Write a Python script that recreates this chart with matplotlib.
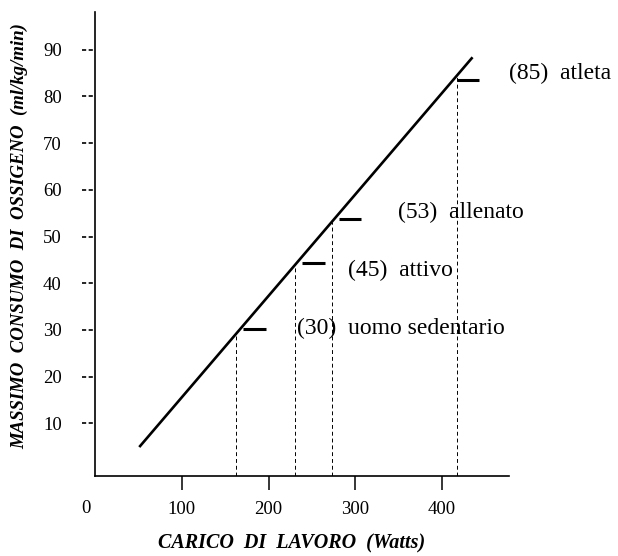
import numpy as np
import matplotlib.pyplot as plt

plt.rcParams['font.family'] = ['Liberation Serif', 'DejaVu Serif']

# data
line_w = [51, 435]          # carico (Watts) at the ends of the line
line_vo2 = [4.9, 88.4]      # VO2 max at the ends of the line
watts = [163, 231, 273, 417]
vo2 = [30, 45, 53, 85]
mark_vo2 = [30.2, 44.3, 53.7, 83.5]
labels = ['(30)  uomo sedentario', '(45)  attivo', '(53)  allenato', '(85)  atleta']
xticks = [100, 200, 300, 400]
yticks = [10, 20, 30, 40, 50, 60, 70, 80, 90]

fig = plt.figure(figsize=(6.18, 5.56), dpi=100)
ax = fig.add_axes([95/618, 80/556, 414/618, 464/556])
ax.set_xlim(0, 477)
ax.set_ylim(-1.3, 98.1)

# main line
ax.plot(line_w, line_vo2, color='black', lw=1.9, solid_capstyle='butt')

# dashed drops from the line to the x axis
tops = np.interp(watts, line_w, line_vo2)
ax.vlines(watts, -1.3, tops, colors='black', lw=0.7, linestyles=(0, (4, 3)))

# short horizontal marks + labels
label_pos = [(233, 30.4), (292, 42.8), (349, 55.2), (477, 85.0)]
mark_off = [8, 8, 8, 0]
for w, m, off, txt, (lx, ly) in zip(watts, mark_vo2, mark_off, labels, label_pos):
    ax.plot([w + off, w + off + 26], [m, m], color='black', lw=2.2, solid_capstyle='butt')
    ax.text(lx, ly, txt, fontsize=17, ha='left', va='center', clip_on=False)

# axes look
for s in ['top', 'right']:
    ax.spines[s].set_visible(False)
ax.spines['left'].set_linewidth(1.2)
ax.spines['bottom'].set_linewidth(1.2)

ax.set_xticks(xticks)
ax.set_xticklabels([str(t) for t in xticks], fontsize=13.5)
ax.tick_params(axis='x', length=10, width=1.1, pad=8, direction='out')
ax.text(-10, -0.071, '0', fontsize=13.5, ha='center', va='center',
        transform=ax.get_xaxis_transform(), clip_on=False)

ax.set_yticks(yticks)
ax.set_yticklabels([str(t) for t in yticks], fontsize=13.5)
ax.tick_params(axis='y', length=0, pad=24)
ax.hlines(yticks, -0.031, -0.003, transform=ax.get_yaxis_transform(),
          colors='black', lw=1.2, linestyles=(0, (2.5, 1.5)), clip_on=False)

fig.text(292/618, 1 - 543/556, 'CARICO  DI  LAVORO  (Watts)', fontsize=14.5,
         fontweight='bold', fontstyle='italic', ha='center', va='center')
fig.text(20/618, 1 - 236/556, 'MASSIMO  CONSUMO  DI  OSSIGENO  (ml/kg/min)', fontsize=13.5,
         fontweight='bold', fontstyle='italic', ha='center', va='center', rotation=90)

fig.savefig('out.png', dpi=100)
